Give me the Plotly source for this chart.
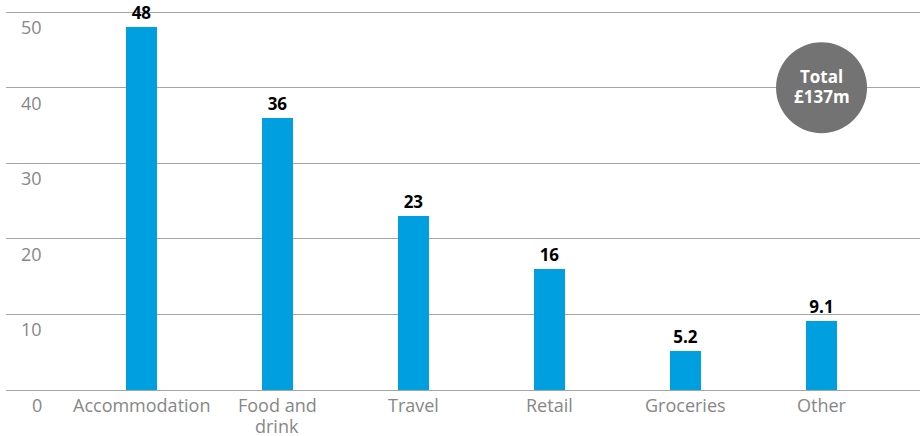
import plotly.graph_objects as go

# Spending by category, £m
categories = ["Accommodation", "Food and<br>drink", "Travel", "Retail", "Groceries", "Other"]
values = [48, 36, 23, 16, 5.2, 9.1]
value_labels = ["48", "36", "23", "16", "5.2", "9.1"]
y_ticks = [0, 10, 20, 30, 40, 50]
total_lines = ["Total", "£137m"]

FONT = "Open Sans"
BAR_COLOR = "#009fdf"
GRID_COLOR = "#a6a6a6"
TICK_COLOR = "#878787"
LABEL_SIZE = 18
LINE_STEP = 20.5

fig = go.Figure()
fig.add_trace(go.Bar(
    x=categories,
    y=values,
    width=0.228,
    marker=dict(color=BAR_COLOR, line=dict(width=0)),
    text=value_labels,
    textposition="outside",
    cliponaxis=False,
    textfont=dict(family=FONT, size=17, color="#000000", weight="bold"),
    hoverinfo="skip",
))

annotations = []
# y tick labels sit just below their gridlines
for t in y_ticks:
    annotations.append(dict(
        x=0.0416, xref="paper", y=t, yref="y",
        text=str(t), showarrow=False,
        xanchor="right", yanchor="top", yshift=-1,
        font=dict(family=FONT, size=LABEL_SIZE, color=TICK_COLOR),
    ))
# category labels under the baseline, one annotation per line for tight leading
for c in categories:
    for i, line in enumerate(c.split("<br>")):
        annotations.append(dict(
            x=c, xref="x", y=0, yref="y",
            text=line, showarrow=False,
            height=20, valign="middle",
            xanchor="center", yanchor="top", yshift=-3 - i * LINE_STEP,
            font=dict(family=FONT, size=LABEL_SIZE, color=TICK_COLOR),
        ))
# total badge text
for line, shift in zip(total_lines, [11, -9]):
    annotations.append(dict(
        x=categories[-1], xref="x", y=40, yref="y",
        text="<b>" + line + "</b>", showarrow=False,
        height=19, valign="middle",
        xanchor="center", yanchor="middle", yshift=shift,
        font=dict(family=FONT, size=17, color="#ffffff"),
    ))

fig.update_layout(
    width=920, height=436,
    margin=dict(l=6, r=0, t=0, b=46),
    paper_bgcolor="white", plot_bgcolor="white",
    showlegend=False,
    bargap=0,
    xaxis=dict(
        type="category",
        range=[-0.996, 5.724],
        showticklabels=False, showgrid=False, zeroline=False, ticks="",
    ),
    yaxis=dict(
        range=[0, 51.6],
        tickvals=y_ticks,
        showticklabels=False,
        showgrid=True, gridcolor=GRID_COLOR, gridwidth=1,
        zeroline=True, zerolinecolor=GRID_COLOR, zerolinewidth=1,
        ticks="",
    ),
    shapes=[dict(
        type="circle", xref="x", yref="y",
        xsizemode="pixel", ysizemode="pixel",
        xanchor=5, yanchor=40,
        x0=-45.5, x1=45.5, y0=-45.5, y1=45.5,
        fillcolor="#737373", line=dict(width=0),
        layer="above",
    )],
    annotations=annotations,
)

fig.write_html("out.html")
